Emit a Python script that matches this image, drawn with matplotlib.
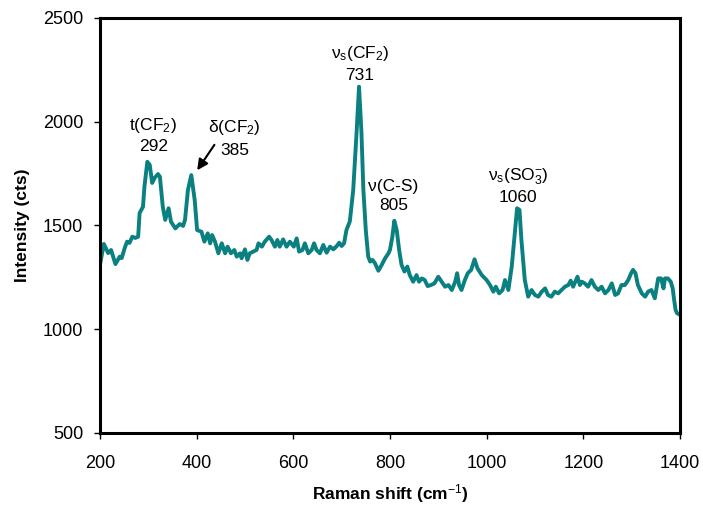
import matplotlib
matplotlib.use("Agg")
import matplotlib.pyplot as plt

plt.rcParams['font.family'] = ['Liberation Sans', 'DejaVu Sans']
plt.rcParams['mathtext.fontset'] = 'custom'
plt.rcParams['mathtext.rm'] = 'Liberation Sans'
plt.rcParams['mathtext.it'] = 'Liberation Sans'
plt.rcParams['mathtext.bf'] = 'Liberation Sans:bold'

# Raman spectrum
shift = [200, 208, 217, 223, 232, 241, 245, 251, 256, 261, 267, 273, 279, 282, 289, 292,
         298, 303, 308, 313, 320, 324, 330, 335, 342, 347, 356, 365, 372, 376, 382, 389,
         396, 401, 410, 416, 423, 428, 432, 438, 445, 452, 459, 464, 471, 478, 483, 490,
         493, 500, 505, 510, 517, 524, 528, 535, 541, 550, 555, 562, 567, 572, 579, 586,
         593, 601, 607, 612, 619, 624, 631, 638, 643, 648, 655, 662, 669, 676, 683, 690,
         695, 700, 705, 710, 717, 724, 731, 736, 741, 745, 750, 755, 759, 764, 769, 776,
         783, 790, 797, 800, 805, 809, 814, 819, 824, 830, 836, 841, 848, 855, 860, 866,
         872, 878, 885, 892, 900, 907, 914, 921, 928, 935, 939, 943, 948, 955, 961, 968,
         975, 981, 990, 1000, 1007, 1014, 1019, 1026, 1033, 1038, 1045, 1052, 1059, 1063,
         1068, 1072, 1079, 1086, 1093, 1100, 1107, 1114, 1121, 1127, 1134, 1141, 1148,
         1155, 1162, 1169, 1174, 1179, 1188, 1193, 1197, 1203, 1210, 1217, 1224, 1231,
         1238, 1245, 1252, 1259, 1266, 1272, 1279, 1286, 1293, 1299, 1303, 1308, 1313,
         1321, 1328, 1334, 1341, 1348, 1355, 1361, 1366, 1369, 1375, 1381, 1385, 1388,
         1391, 1394, 1400]
intensity = [1310, 1411, 1367, 1382, 1314, 1350, 1343, 1390, 1422, 1416, 1446, 1440, 1446,
             1560, 1590, 1687, 1807, 1792, 1705, 1729, 1748, 1735, 1590, 1527, 1583, 1518,
             1486, 1507, 1498, 1527, 1671, 1743, 1623, 1478, 1470, 1422, 1462, 1414, 1454,
             1422, 1366, 1414, 1366, 1398, 1366, 1382, 1350, 1366, 1342, 1385, 1334, 1366,
             1374, 1382, 1414, 1398, 1422, 1446, 1430, 1398, 1430, 1398, 1433, 1398, 1422,
             1398, 1438, 1374, 1382, 1414, 1366, 1382, 1414, 1382, 1366, 1406, 1369, 1398,
             1385, 1401, 1417, 1401, 1414, 1478, 1520, 1671, 1950, 2169, 1950, 1671, 1478,
             1350, 1326, 1334, 1318, 1282, 1310, 1342, 1366, 1382, 1446, 1523, 1478, 1382,
             1310, 1278, 1302, 1261, 1229, 1261, 1229, 1245, 1237, 1208, 1213, 1221, 1253,
             1229, 1205, 1213, 1189, 1229, 1270, 1213, 1189, 1237, 1270, 1286, 1337, 1294,
             1261, 1237, 1213, 1181, 1205, 1173, 1189, 1237, 1189, 1302, 1478, 1583, 1575,
             1430, 1237, 1157, 1189, 1165, 1157, 1181, 1197, 1165, 1157, 1181, 1173, 1189,
             1205, 1213, 1234, 1205, 1253, 1213, 1229, 1221, 1205, 1237, 1205, 1189, 1205,
             1173, 1189, 1221, 1165, 1173, 1213, 1213, 1237, 1270, 1286, 1270, 1213, 1173,
             1157, 1181, 1189, 1149, 1245, 1245, 1197, 1245, 1245, 1229, 1197, 1141, 1093,
             1077, 1070]

xticks = [200, 400, 600, 800, 1000, 1200, 1400]
yticks = [500, 1000, 1500, 2000, 2500]

fig = plt.figure(figsize=(7.03, 5.07), dpi=100)
ax = fig.add_axes([0.1422, 0.146, 0.825, 0.8185])
ax.plot(shift, intensity, color='#0a8080', linewidth=2.8)
ax.set_xlim(200, 1400)
ax.set_ylim(500, 2500)
ax.set_xticks(xticks)
ax.set_yticks(yticks)
ax.tick_params(labelsize=13, length=4, width=1, direction='out')
ax.tick_params(axis='x', pad=12)
ax.tick_params(axis='y', pad=8)
for s in ax.spines.values():
    s.set_linewidth(2.2)

ax.set_xlabel('Raman shift (cm$^{-1}$)', fontsize=12.5, fontweight='bold', labelpad=7)
ax.set_ylabel('Intensity (cts)', fontsize=12.5, fontweight='bold', labelpad=9)

kw = dict(ha='center', va='center', fontsize=12.5)
ax.text(310, 1980, 't(CF$_2$)', **kw)
ax.text(310, 1883, '292', **kw)
ax.text(479, 1970, 'δ(CF$_2$)', **kw)
ax.text(479, 1859, '385', **kw)
ax.text(738, 2331, 'ν$_s$(CF$_2$)', **kw)
ax.text(738, 2225, '731', **kw)
ax.text(806, 1690, 'ν(C-S)', **kw)
ax.text(808, 1594, '805', **kw)
ax.text(1065, 1734, 'ν$_s$(SO$_3^{-}$)', **kw)
ax.text(1065, 1633, '1060', **kw)
ax.annotate('', xy=(398, 1755), xytext=(440, 1900),
            arrowprops=dict(arrowstyle='-|>', color='black', lw=1.5, mutation_scale=16))

fig.savefig('out.png', dpi=100)
